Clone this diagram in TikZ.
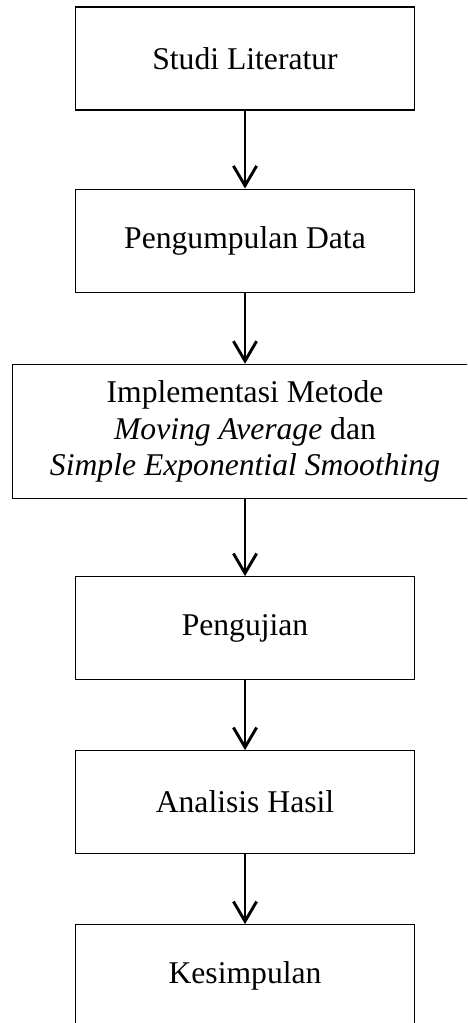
\documentclass[tikz,border=0pt]{standalone}
\usepackage{fontspec}
\setmainfont{Liberation Serif}
\usetikzlibrary{positioning,arrows.meta}

\tikzset{
  stepbox/.style={draw, line width=0.4pt, minimum width=4.53cm, minimum height=1.373cm,
    align=center, inner sep=0pt, font=\fontsize{12}{13.8}\selectfont},
  flow/.style={line width=1.1pt, -{Straight Barb[length=7.5pt,width=8.8pt,line width=1.1pt]}}
}

\begin{document}
\begin{tikzpicture}
\path[use as bounding box, clip] (0,0) rectangle (6.227,-13.64);
\node[stepbox] (studi) at (3.267,-0.78) {Studi Literatur};
\node[stepbox, below=1.04cm of studi] (data) {Pengumpulan Data};
\node[stepbox, minimum width=6.21cm, minimum height=1.79cm, below=0.95cm of data] (metode)
  {Implementasi Metode\\ \textit{Moving Average} dan\\ \textit{Simple Exponential Smoothing}};
\node[stepbox, below=1.027cm of metode] (uji) {Pengujian};
\node[stepbox, below=0.933cm of uji] (hasil) {Analisis Hasil};
\node[stepbox, below=0.933cm of hasil] (simpul) {Kesimpulan};
\draw[flow] (studi) -- (data);
\draw[flow] (data) -- (metode);
\draw[flow] (metode) -- (uji);
\draw[flow] (uji) -- (hasil);
\draw[flow] (hasil) -- (simpul);
\end{tikzpicture}
\end{document}
